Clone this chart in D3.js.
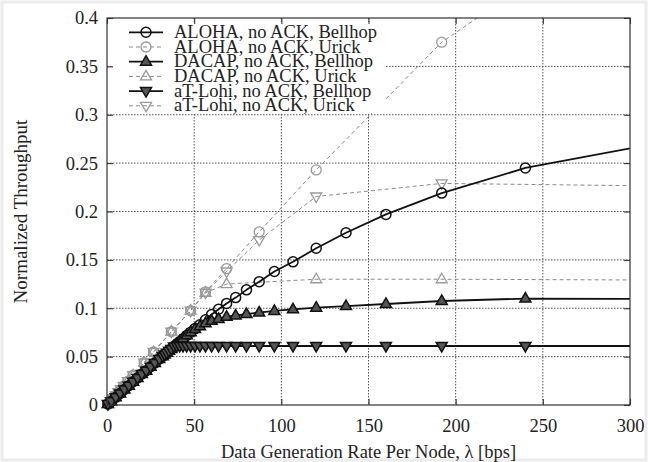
<!DOCTYPE html>
<html>
<head>
<meta charset="utf-8">
<script src="https://cdn.jsdelivr.net/npm/d3@7"></script>
<style>
  html, body { margin: 0; padding: 0; background: #fff; }
  svg { display: block; }
  text { font-family: "Liberation Serif", "Times New Roman", serif; fill: #222; }
</style>
</head>
<body>
<svg id="chart" width="648" height="462"></svg>
<script>
// Data generation rates (bps) at which each propagation model was simulated
const rateBellhop = [0.5, 2.5, 5, 7.5, 10, 12.5, 15, 17.5, 20, 22.5, 25, 27.5, 30, 32, 33.1, 34.3, 35.6, 36.9, 38.4, 40,
  41.7, 43.6, 45.7, 48, 50.5, 53.3, 56.5, 60, 64, 68.6, 73.8, 80, 87.3, 96, 106.7, 120, 137.1, 160, 192, 240, 480];
const rateUrick = [0.5, 2, 3.5, 5, 6.5, 8, 9.6, 12, 15, 21.3, 26.7, 36.9, 48, 56.5, 68.6, 87.3, 120, 192, 480];

// Normalized throughput, Bellhop channel
const alohaBellhop = [0.001, 0.004, 0.008, 0.012, 0.016, 0.020, 0.024, 0.028, 0.032, 0.0355, 0.0395, 0.0435, 0.0475, 0.0505, 0.0523, 0.054, 0.056, 0.058, 0.0605, 0.063,
  0.0655, 0.0685, 0.0718, 0.0752, 0.079, 0.083, 0.088, 0.0935, 0.099, 0.105, 0.111, 0.119, 0.1275, 0.138, 0.148, 0.162, 0.178, 0.197, 0.219, 0.245, 0.326];
const dacapBellhop = [0.001, 0.004, 0.008, 0.012, 0.016, 0.020, 0.024, 0.028, 0.032, 0.0355, 0.0395, 0.0435, 0.0475, 0.0505, 0.0523, 0.054, 0.056, 0.058, 0.0605, 0.063,
  0.0658, 0.0688, 0.072, 0.0752, 0.0785, 0.0815, 0.0845, 0.087, 0.089, 0.0912, 0.0925, 0.094, 0.0955, 0.0972, 0.0989, 0.1006, 0.1023, 0.1044, 0.1075, 0.110, 0.1085];
const atLohiBellhop = [0.001, 0.004, 0.008, 0.012, 0.016, 0.020, 0.024, 0.028, 0.032, 0.0355, 0.0395, 0.0435, 0.0475, 0.0505, 0.0523, 0.054, 0.056, 0.058, 0.0605, 0.061,
  0.061, 0.061, 0.061, 0.061, 0.061, 0.061, 0.061, 0.061, 0.061, 0.061, 0.061, 0.061, 0.061, 0.061, 0.061, 0.061, 0.061, 0.061, 0.061, 0.061, 0.061];

// Normalized throughput, Urick channel (null = not simulated)
const alohaUrick = [0.001, 0.004, 0.007, 0.010, 0.0133, 0.0164, 0.0197, 0.0246, 0.0308, 0.0437, 0.0548, 0.0758, 0.0975, 0.117, 0.141, 0.179, 0.243, 0.375, 0.73];
const dacapUrick = [0.001, 0.004, 0.007, 0.010, 0.0133, 0.0164, 0.0197, 0.0246, 0.0308, 0.0437, 0.0548, 0.0758, 0.0975, 0.116, 0.125, null, 0.130, 0.130, 0.128];
const atLohiUrick = [0.001, 0.004, 0.007, 0.010, 0.0133, 0.0164, 0.0197, 0.0246, 0.0308, 0.0437, 0.0548, 0.0758, 0.0975, 0.116, 0.138, 0.1705, 0.2155, 0.229, 0.223];

const xTicks = [0, 50, 100, 150, 200, 250, 300];
const yTicks = [0, 0.05, 0.1, 0.15, 0.2, 0.25, 0.3, 0.35, 0.4];
const yTickLabels = ["0", "0.05", "0.1", "0.15", "0.2", "0.25", "0.3", "0.35", "0.4"];

const seriesLabels = [
  "ALOHA, no ACK, Bellhop", "ALOHA, no ACK, Urick",
  "DACAP, no ACK, Bellhop", "DACAP, no ACK, Urick",
  "aT-Lohi, no ACK, Bellhop", "aT-Lohi, no ACK, Urick"
];

const series = [
  { label: seriesLabels[0], rates: rateBellhop, values: alohaBellhop, model: "bellhop", shape: "circle" },
  { label: seriesLabels[1], rates: rateUrick, values: alohaUrick, model: "urick", shape: "circle" },
  { label: seriesLabels[2], rates: rateBellhop, values: dacapBellhop, model: "bellhop", shape: "up" },
  { label: seriesLabels[3], rates: rateUrick, values: dacapUrick, model: "urick", shape: "up" },
  { label: seriesLabels[4], rates: rateBellhop, values: atLohiBellhop, model: "bellhop", shape: "down" },
  { label: seriesLabels[5], rates: rateUrick, values: atLohiUrick, model: "urick", shape: "down" }
];

const plot = { left: 107, right: 630, top: 18, bottom: 405 };
const x = d3.scaleLinear().domain([0, 300]).range([plot.left, plot.right]);
const y = d3.scaleLinear().domain([0, 0.4]).range([plot.bottom, plot.top]);

const svg = d3.select("#chart");

// faint frame around the figure
svg.append("rect").attr("x", 2).attr("y", 2).attr("width", 644).attr("height", 458)
  .attr("fill", "none").attr("stroke", "#ececec").attr("stroke-width", 3);

svg.append("defs").append("clipPath").attr("id", "plotClip")
  .append("rect").attr("x", plot.left).attr("y", plot.top)
  .attr("width", plot.right - plot.left).attr("height", plot.bottom - plot.top);

// dotted grid
const grid = svg.append("g").attr("stroke", "#555").attr("stroke-width", 1).attr("stroke-dasharray", "1.5,1.5");
grid.selectAll("line.gx").data(xTicks.slice(1, -1)).join("line")
  .attr("x1", d => x(d)).attr("x2", d => x(d)).attr("y1", plot.top).attr("y2", plot.bottom);
grid.selectAll("line.gy").data(yTicks.slice(1, -1)).join("line")
  .attr("y1", d => y(d)).attr("y2", d => y(d)).attr("x1", plot.left).attr("x2", plot.right);

const styles = {
  bellhop: { line: "#111", width: 1.8, dash: null, marker: "#111", markerWidth: 1.5, fill: "#555" },
  urick: { line: "#8a8a8a", width: 1, dash: "4,3", marker: "#999", markerWidth: 1.3, fill: "none" }
};

function markerPath(shape) {
  if (shape === "circle") return d3.symbol(d3.symbolCircle, Math.PI * 25)();
  if (shape === "up") return "M0,-6L5.5,3.5L-5.5,3.5Z";
  return "M0,6L5.5,-3.5L-5.5,-3.5Z";
}
function markerFill(s) {
  return s.shape === "circle" ? "none" : styles[s.model].fill;
}

const lineGen = d3.line().x(d => x(d[0])).y(d => y(d[1]));
const pointsOf = s => s.rates.map((r, i) => [r, s.values[i]]).filter(p => p[1] !== null);

// Urick curves first, Bellhop on top
const order = [1, 3, 5, 0, 2, 4];
const linesG = svg.append("g").attr("clip-path", "url(#plotClip)");
order.forEach(i => {
  const s = series[i], st = styles[s.model];
  linesG.append("path").datum(pointsOf(s)).attr("d", lineGen)
    .attr("fill", "none").attr("stroke", st.line).attr("stroke-width", st.width)
    .attr("stroke-dasharray", st.dash).attr("stroke-linejoin", "round");
});

const marksG = svg.append("g");
order.forEach(i => {
  const s = series[i], st = styles[s.model];
  marksG.append("g").selectAll("path")
    .data(pointsOf(s).filter(p => p[0] <= 300 && p[1] <= 0.4))
    .join("path")
    .attr("transform", d => `translate(${x(d[0])},${y(d[1])})`)
    .attr("d", markerPath(s.shape))
    .attr("fill", markerFill(s)).attr("stroke", st.marker).attr("stroke-width", st.markerWidth);
});

// key with opaque background
const key = svg.append("g");
key.append("rect").attr("x", 113).attr("y", 22).attr("width", 273).attr("height", 91).attr("fill", "#fff");
series.forEach((s, i) => {
  const st = styles[s.model];
  const ry = 32.3 + i * 14.7;
  key.append("line").attr("x1", 129).attr("x2", 163).attr("y1", ry).attr("y2", ry)
    .attr("stroke", st.line).attr("stroke-width", st.width).attr("stroke-dasharray", st.dash);
  key.append("path").attr("transform", `translate(146,${ry})`).attr("d", markerPath(s.shape))
    .attr("fill", markerFill(s)).attr("stroke", st.marker).attr("stroke-width", st.markerWidth);
  key.append("text").attr("x", 174).attr("y", ry + 5.5).attr("font-size", 18.5).text(s.label);
});

// border
svg.append("rect").attr("x", plot.left).attr("y", plot.top)
  .attr("width", plot.right - plot.left).attr("height", plot.bottom - plot.top)
  .attr("fill", "none").attr("stroke", "#333").attr("stroke-width", 1.2);

// axes with inward ticks, mirrored on top and right
const styleAxis = g => {
  g.select(".domain").remove();
  g.selectAll(".tick line").attr("stroke", "#333").attr("stroke-width", 1.1);
  g.selectAll("text").attr("font-size", 18.5).attr("fill", "#222")
    .attr("font-family", "\"Liberation Serif\", \"Times New Roman\", serif");
};
svg.append("g").attr("transform", `translate(0,${plot.bottom})`)
  .call(d3.axisBottom(x).tickValues(xTicks).tickSize(-6).tickSizeOuter(0).tickPadding(14))
  .call(styleAxis);
svg.append("g").attr("transform", `translate(${plot.left},0)`)
  .call(d3.axisLeft(y).tickValues(yTicks).tickFormat((d, i) => yTickLabels[i]).tickSize(-6).tickSizeOuter(0).tickPadding(9))
  .call(styleAxis);
svg.append("g").attr("transform", `translate(0,${plot.top})`)
  .call(d3.axisTop(x).tickValues(xTicks).tickSize(-6).tickSizeOuter(0).tickFormat(""))
  .call(styleAxis);
svg.append("g").attr("transform", `translate(${plot.right},0)`)
  .call(d3.axisRight(y).tickValues(yTicks).tickSize(-6).tickSizeOuter(0).tickFormat(""))
  .call(styleAxis);

// axis titles
svg.append("text").attr("x", (plot.left + plot.right) / 2).attr("y", 458)
  .attr("text-anchor", "middle").attr("font-size", 18.5)
  .text("Data Generation Rate Per Node, λ [bps]");
svg.append("text").attr("transform", `translate(27,${(plot.top + plot.bottom) / 2}) rotate(-90)`)
  .attr("text-anchor", "middle").attr("font-size", 19)
  .text("Normalized Throughput");
</script>
</body>
</html>
